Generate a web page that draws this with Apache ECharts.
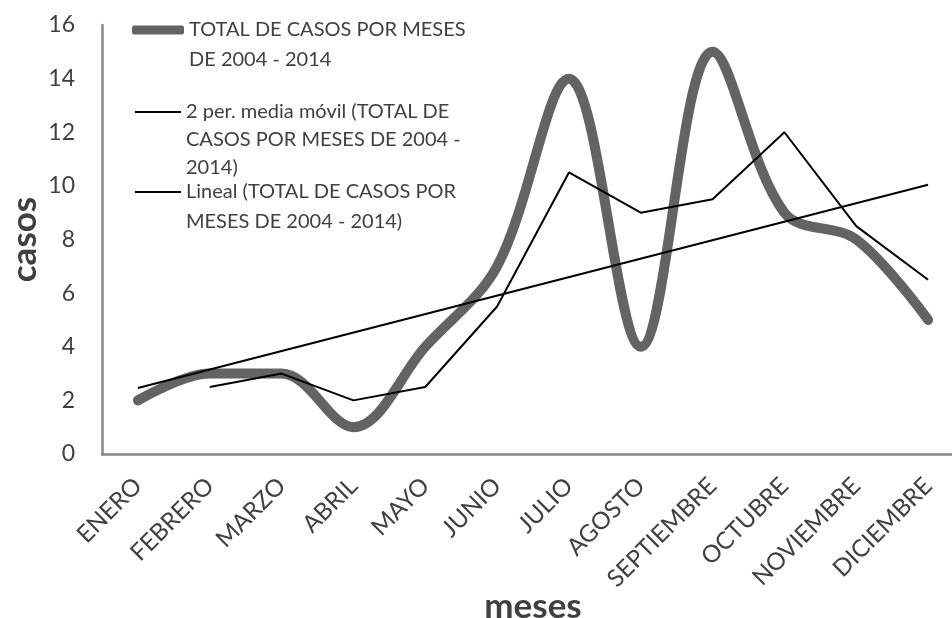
<!DOCTYPE html>
<html>
<head>
<meta charset="utf-8">
<script src="https://cdn.jsdelivr.net/npm/echarts@6/dist/echarts.min.js"></script>
<style>
  html, body { margin: 0; padding: 0; background: #ffffff; }
  #chart { width: 952px; height: 618px; }
</style>
</head>
<body>
<div id="chart"></div>
<script>
// Months of the year (category axis)
const meses = ['ENERO', 'FEBRERO', 'MARZO', 'ABRIL', 'MAYO', 'JUNIO', 'JULIO',
  'AGOSTO', 'SEPTIEMBRE', 'OCTUBRE', 'NOVIEMBRE', 'DICIEMBRE'];

// Total cases per month, 2004 - 2014
const totalCasos = [2, 3, 3, 1, 4, 7, 14, 4, 15, 9, 8, 5];

// 2-period moving average (starts at the second month)
const mediaMovil = [null, 2.5, 3, 2, 2.5, 5.5, 10.5, 9, 9.5, 12, 8.5, 6.5];

// Linear trend: values at the first and last month
const lineal = [2.46, null, null, null, null, null, null, null, null, null, null, 10.04];

// Value axis range
const yMin = 0, yMax = 16, yStep = 2;

const serieNombres = [
  'TOTAL DE CASOS POR MESES DE 2004 - 2014',
  '2 per. media móvil (TOTAL DE CASOS POR MESES DE 2004 - 2014)',
  'Lineal (TOTAL DE CASOS POR MESES DE 2004 - 2014)'
];
const leyendaLineas = [
  ['TOTAL DE CASOS POR MESES', 'DE 2004 - 2014'],
  ['2 per. media móvil (TOTAL DE', 'CASOS POR MESES DE 2004 -', '2014)'],
  ['Lineal (TOTAL DE CASOS POR', 'MESES DE 2004 - 2014)']
];

const FONT = 'Lato';
const TEXT = '#404040';
const AXIS = '#868686';

// One legend per series; the icon sits level with the first text line,
// so blank lines are put above the text to keep that line centred on the icon.
function leyenda(i, iconY, lh, left, iconW, iconH, icon) {
  const lineas = leyendaLineas[i];
  const n = lineas.length;
  const texto = new Array(n - 1).fill('').concat(lineas).join('\n');
  const alto = (2 * n - 1) * lh;
  return {
    show: true,
    data: [serieNombres[i]],
    left: left,
    top: iconY - alto / 2,
    padding: 0,
    icon: icon,
    itemWidth: iconW,
    itemHeight: iconH,
    selectedMode: false,
    formatter: function () { return texto; },
    textStyle: { fontFamily: FONT, fontSize: 20, color: TEXT, lineHeight: lh }
  };
}

const chart = echarts.init(document.getElementById('chart'), null, { renderer: 'canvas' });

chart.setOption({
  animation: false,
  backgroundColor: '#ffffff',
  grid: {
    left: 102, right: -12, top: 25, bottom: 164,
    containLabel: false,
    outerBoundsMode: 'none'
  },
  legend: [
    leyenda(0, 30, 30, 132, 52, 9, 'roundRect'),
    leyenda(1, 112, 28, 135, 46, 2, 'rect'),
    leyenda(2, 192, 30, 135, 46, 2, 'rect')
  ],
  xAxis: {
    type: 'category',
    data: meses,
    boundaryGap: true,
    axisLine: { show: true, lineStyle: { color: AXIS, width: 2.5 } },
    axisTick: { show: false },
    splitLine: { show: false },
    axisLabel: {
      rotate: 45,
      margin: 28,
      fontFamily: FONT,
      fontSize: 24,
      color: TEXT,
      interval: 0
    },
    name: 'meses',
    nameLocation: 'middle',
    nameGap: 135,
    nameMoveOverlap: false,
    nameTextStyle: { fontFamily: FONT, fontSize: 35, fontWeight: 'bold', color: TEXT }
  },
  yAxis: {
    type: 'value',
    min: yMin,
    max: yMax,
    interval: yStep,
    axisLine: { show: true, lineStyle: { color: AXIS, width: 2.5 } },
    axisTick: { show: false },
    splitLine: { show: false },
    axisLabel: {
      margin: 27,
      fontFamily: FONT,
      fontSize: 23,
      color: TEXT
    },
    name: 'casos',
    nameLocation: 'middle',
    nameGap: 60,
    nameRotate: 90,
    nameMoveOverlap: false,
    nameTextStyle: { fontFamily: FONT, fontSize: 35, fontWeight: 'bold', color: TEXT }
  },
  series: [
    {
      name: serieNombres[0],
      type: 'line',
      data: totalCasos,
      smooth: 0.35,
      symbol: 'none',
      lineStyle: { color: '#636363', width: 10, cap: 'round', join: 'round' },
      itemStyle: { color: '#636363' },
      z: 2
    },
    {
      name: serieNombres[1],
      type: 'line',
      data: mediaMovil,
      symbol: 'none',
      lineStyle: { color: '#000000', width: 2 },
      itemStyle: { color: '#000000' },
      z: 3
    },
    {
      name: serieNombres[2],
      type: 'line',
      data: lineal,
      connectNulls: true,
      symbol: 'none',
      lineStyle: { color: '#000000', width: 2 },
      itemStyle: { color: '#000000' },
      z: 3
    }
  ]
});
</script>
</body>
</html>
